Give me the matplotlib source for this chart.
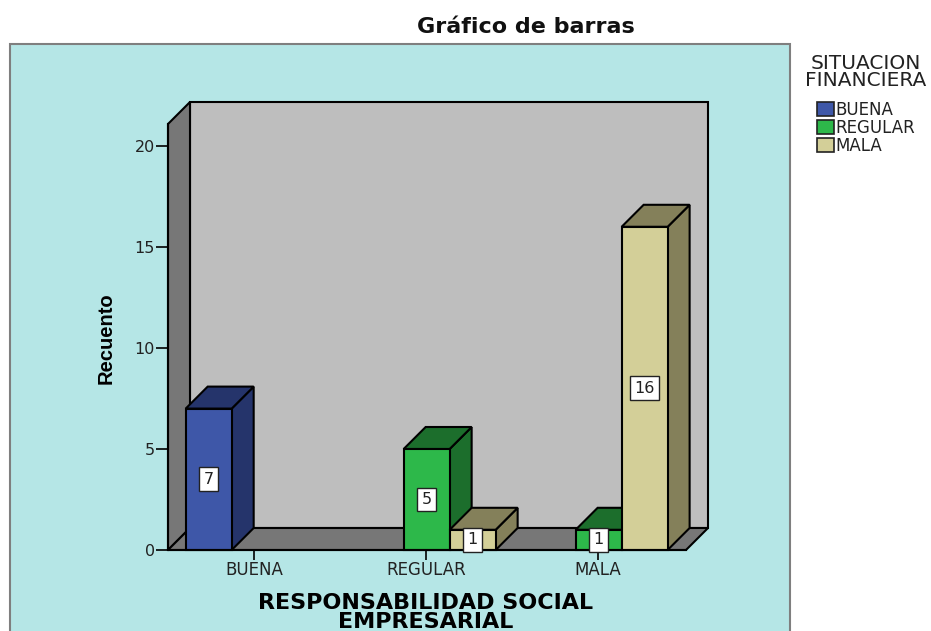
#!/usr/bin/env python3

import matplotlib
matplotlib.use("Agg")
import matplotlib.pyplot as plt
from matplotlib.patches import Patch, Polygon, Rectangle

categories = ["BUENA", "REGULAR", "MALA"]
series_names = ["BUENA", "REGULAR", "MALA"]
buena = [7, 0, 0]
regular = [0, 5, 1]
mala = [0, 1, 16]
yticks = [0, 5, 10, 15, 20]

front_colors = ["#3e57a8", "#2db84a", "#d3cf98"]
side_colors = ["#25346b", "#1c6e2c", "#84805a"]

W, H = 931, 631
PX_X = 172.0  # pixels per category
PX_Y = 20.2  # pixels per count
DX = 22 / PX_X
DY = 22 / PX_Y
BAR_W = 46 / PX_X
TXT = "#222222"
WIDE = "DejaVu Sans"

plt.rcParams["font.family"] = ["Liberation Sans", "DejaVu Sans"]

fig = plt.figure(figsize=(W / 100, H / 100), dpi=100)
fig.patches.append(Rectangle((10 / W, -0.02), 780 / W, 1.02 - 44 / H,
                             transform=fig.transFigure, facecolor="#b5e6e6",
                             edgecolor="#7f7f7f", linewidth=1.5, zorder=-1))

ax = fig.add_axes([168 / W, (H - 550) / H, 518 / W, 426 / H])
ax.patch.set_visible(False)
xmin, xmax = -0.5, 2.512
ymax = 426 / PX_Y
ax.set_xlim(xmin, xmax)
ax.set_ylim(0, ymax)


def poly(points, color, z):
    ax.add_patch(Polygon(points, closed=True, facecolor=color, edgecolor="black",
                         linewidth=1.5, joinstyle="miter", clip_on=False, zorder=z))


# walls and floor of the 3d box
poly([(xmin + DX, DY), (xmax + DX, DY), (xmax + DX, ymax + DY), (xmin + DX, ymax + DY)],
     "#bebebe", 1)
poly([(xmin, 0), (xmin + DX, DY), (xmin + DX, ymax + DY), (xmin, ymax)], "#777777", 1.1)
poly([(xmin, 0), (xmin + DX, DY), (xmax + DX, DY), (xmax, 0)], "#777777", 1.1)

z = 2
for c in range(len(categories)):
    for s, values in enumerate([buena, regular, mala]):
        v = values[c]
        if v == 0:
            continue
        left = c + (s - 1.5) * BAR_W + 0.004
        right = left + BAR_W
        poly([(right, 0), (right + DX, DY), (right + DX, v + DY), (right, v)],
             side_colors[s], z)
        poly([(left, v), (left + DX, v + DY), (right + DX, v + DY), (right, v)],
             side_colors[s], z)
        ax.bar(left, v, width=BAR_W, align="edge", color=front_colors[s],
               edgecolor="black", linewidth=1.5, zorder=z + 0.5, clip_on=False)
        ax.text(left + BAR_W / 2, v / 2, str(v), ha="center", va="center", fontsize=11.5,
                color=TXT, zorder=50, family=WIDE,
                bbox=dict(boxstyle="square,pad=0.28", facecolor="white",
                          edgecolor="#222222", linewidth=1))
        z += 1

for name in ["top", "right"]:
    ax.spines[name].set_visible(False)
for name in ["left", "bottom"]:
    ax.spines[name].set_linewidth(1.5)
    ax.spines[name].set_zorder(40)

ax.set_yticks(yticks)
ax.set_xticks(range(len(categories)))
ax.set_xticklabels(categories, family=WIDE)
ax.set_yticklabels([str(t) for t in yticks], family=WIDE)
ax.tick_params(axis="y", length=8.5, width=1.2, pad=1, labelsize=11.5, labelcolor=TXT)
ax.tick_params(axis="x", length=7, width=1.2, pad=1, labelsize=12, labelcolor=TXT)

ax.set_xlabel("RESPONSABILIDAD SOCIAL\nEMPRESARIAL", fontsize=16, fontweight="bold",
              linespacing=0.95, color="black", family=WIDE)
ax.xaxis.set_label_coords((426 - 168) / 518, -(632 - 550) / 426)
ax.xaxis.label.set_va("bottom")
ax.set_ylabel("Recuento", fontsize=14.5, fontweight="bold", color="black")
ax.yaxis.set_label_coords((116 - 168) / 518, (550 - 338) / 426)

fig.text(526 / W, (H - 27) / H, "Gráfico de barras", fontsize=16, fontweight="bold",
         ha="center", va="center", color="#111111", family=WIDE)

handles = [Patch(facecolor=col, edgecolor="#222222", linewidth=1.2) for col in front_colors]
leg = fig.legend(handles, series_names, title="SITUACION\nFINANCIERA",
                 loc="upper left", bbox_to_anchor=(805 / W, (H - 54) / H),
                 frameon=False,
                 handlelength=1.05, handleheight=0.85, handletextpad=0.05,
                 labelspacing=0.0, borderpad=0.0, borderaxespad=0.0,
                 alignment="center",
                 prop={"family": WIDE, "size": 12},
                 title_fontproperties={"family": WIDE, "size": 14.5})
leg.get_title().set_linespacing(0.85)
leg.get_title().set_multialignment("center")
leg.get_title().set_color(TXT)
for t in leg.get_texts():
    t.set_color(TXT)
leg._legend_box.sep = 8  # gap between title and entries

fig.savefig("out.png", dpi=100)
